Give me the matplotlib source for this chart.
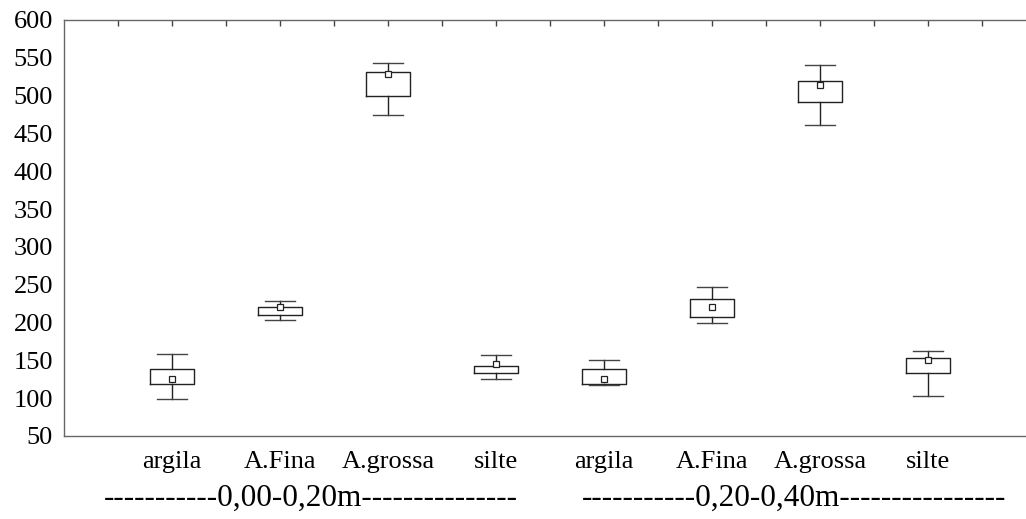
import matplotlib
matplotlib.use("Agg")
import matplotlib.pyplot as plt
import numpy as np

categories = ["argila", "A.Fina", "A.grossa", "silte", "argila", "A.Fina", "A.grossa", "silte"]
whisker_low = [99, 203, 475, 125, 118, 199, 461, 103]
box_low = [119, 210, 499, 133, 119, 207, 491, 133]
box_high = [139, 221, 531, 143, 139, 231, 519, 153]
whisker_high = [159, 229, 543, 157, 150, 247, 540, 163]
means = [125, 220, 528, 145, 125, 220, 514, 150]
group_labels = ["-----------0,00-0,20m---------------", "-----------0,20-0,40m----------------"]
yticks = [50, 100, 150, 200, 250, 300, 350, 400, 450, 500, 550, 600]

plt.rcParams['font.family'] = ['Liberation Serif', 'DejaVu Serif']

fig = plt.figure(figsize=(10.26, 5.19), dpi=100)
W, H = 1026, 519
ax = fig.add_axes([64 / W, 83 / H, (1036 - 64) / W, (436 - 20) / H])

stats = []
for i in range(len(categories)):
    stats.append(dict(med=np.nan, q1=box_low[i], q3=box_high[i],
                      whislo=whisker_low[i], whishi=whisker_high[i],
                      mean=means[i], fliers=[], label=categories[i]))

lc = '#222222'
positions = np.arange(1, len(categories) + 1)
ax.bxp(stats, positions=positions, widths=0.4, showmeans=True, showfliers=False,
       boxprops=dict(color=lc, linewidth=1.0),
       whiskerprops=dict(color=lc, linewidth=1.0),
       capprops=dict(color='#444444', linewidth=1.0),
       medianprops=dict(linewidth=0),
       capwidths=0.28,
       meanprops=dict(marker='s', markersize=4, markerfacecolor='white',
                      markeredgecolor=lc, markeredgewidth=0.9))

ax.set_xlim(0, 9)
ax.set_ylim(50, 600)
ax.set_yticks(yticks)
ax.set_yticklabels([str(v) for v in yticks], fontsize=19)
ax.set_xticks(positions)
ax.set_xticklabels(categories, fontsize=19)
ax.tick_params(axis='x', length=0, pad=11)
ax.tick_params(axis='y', length=0, pad=8)

for s in ['left', 'top', 'bottom', 'right']:
    ax.spines[s].set_color('#666666')
    ax.spines[s].set_linewidth(1.0)

sec = ax.secondary_xaxis('top')
sec.set_xticks(np.arange(0.5, 9.0, 0.5))
sec.set_xticklabels([])
sec.tick_params(direction='in', length=4, width=1, color='#444444')
sec.spines['top'].set_visible(False)

fig.text(311 / W, 1 - 498 / H, group_labels[0], fontsize=22.5, ha='center', va='center')
fig.text(794 / W, 1 - 498 / H, group_labels[1], fontsize=22.5, ha='center', va='center')

fig.savefig("out.png", dpi=100)
